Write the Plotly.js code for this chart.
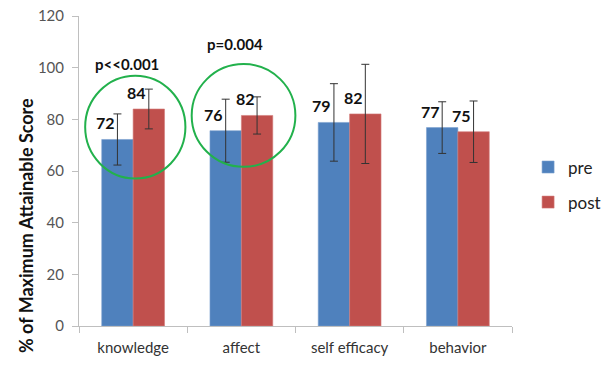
<!DOCTYPE html>
<html>
<head>
<meta charset="utf-8">
<script src="https://cdn.plot.ly/plotly-3.0.1.min.js"></script>
<style>html,body{margin:0;padding:0;background:#fff;}#chart{width:607px;height:367px;}</style>
</head>
<body>
<div id="chart"></div>
<script>
const categories = ["knowledge", "affect", "self efficacy", "behavior"];
const preValues = [72.2, 75.6, 78.8, 76.8];
const postValues = [84.0, 81.5, 82.1, 75.2];
const preErr = [9.9, 12.2, 15.0, 10.0];
const postErr = [7.7, 7.2, 19.2, 11.9];
const seriesNames = ["pre", "post"];
const pValueLabels = ["p<<0.001", "p=0.004"];
const pValueY = [101.4, 109.1];
const yTitle = "% of Maximum Attainable Score";

const FONT = "Lato, 'Open Sans', sans-serif";
const BARGAP = 0.42;
const off = (1 - BARGAP) / 4;

const traces = [
  {type: "bar", name: seriesNames[0], x: categories, y: preValues, legendgroup: "a",
   marker: {color: "#4F81BD", line: {color: "#7A9FCF", width: 0.6}},
   error_y: {type: "data", array: preErr, visible: true, color: "#333333", thickness: 1, width: 4}},
  {type: "bar", name: seriesNames[1], x: categories, y: postValues, legendgroup: "b",
   marker: {color: "#C0504D", line: {color: "#D47C7A", width: 0.6}},
   error_y: {type: "data", array: postErr, visible: true, color: "#333333", thickness: 1, width: 4}}
];

const annotations = [];
preValues.forEach((v, i) => annotations.push({x: i - off, y: v, xref: "x", yref: "y",
  text: String(Math.round(v)), showarrow: false, xanchor: "center", yanchor: "bottom",
  xshift: -12, yshift: 5, font: {family: FONT, size: 16, color: "#111", weight: "bold"}}));
postValues.forEach((v, i) => annotations.push({x: i + off, y: v, xref: "x", yref: "y",
  text: String(Math.round(v)), showarrow: false, xanchor: "center", yanchor: "bottom",
  xshift: -12, yshift: 5, font: {family: FONT, size: 16, color: "#111", weight: "bold"}}));
pValueLabels.forEach((t, i) => annotations.push({x: i, y: pValueY[i], xref: "x", yref: "y",
  text: t, showarrow: false, xanchor: "center", yanchor: "middle", xshift: -6,
  font: {family: FONT, size: 15, color: "#111", weight: "bold"}}));
annotations.push({xref: "paper", yref: "paper", x: -0.122, y: 0.323, text: yTitle, textangle: -90,
  showarrow: false, xanchor: "center", yanchor: "middle",
  font: {family: FONT, size: 18, color: "#111", weight: "bold"}});

const shapes = [
  {type: "circle", xref: "x", yref: "y", x0: 0.02 - 0.463, x1: 0.02 + 0.463, y0: 77.0 - 19.9, y1: 77.0 + 19.9,
   line: {color: "#22B14C", width: 2}},
  {type: "circle", xref: "x", yref: "y", x0: 1.02 - 0.479, x1: 1.02 + 0.479, y0: 81.5 - 19.9, y1: 81.5 + 19.9,
   line: {color: "#22B14C", width: 2}}
];

const layout = {
  width: 607, height: 367,
  margin: {l: 79, r: 95, t: 16, b: 41, pad: 0},
  paper_bgcolor: "#fff", plot_bgcolor: "#fff",
  font: {family: FONT, size: 14, color: "#404040"},
  barmode: "group", bargap: BARGAP, bargroupgap: 0,
  showlegend: true,
  legend: {xref: "container", yref: "container", x: 0.87, y: 0.496, xanchor: "left", yanchor: "middle",
           traceorder: "grouped", tracegroupgap: 10,
           font: {family: FONT, size: 17, color: "#222"}, bgcolor: "rgba(0,0,0,0)"},
  xaxis: {type: "category", showgrid: false, showline: true, linecolor: "#BFBFBF", linewidth: 1,
          ticks: "outside", tickson: "boundaries", ticklen: 6, tickcolor: "#BFBFBF", ticklabelstandoff: 8,
          tickfont: {family: FONT, size: 15, color: "#333"}, zeroline: false, fixedrange: true},
  yaxis: {range: [0, 120], dtick: 20, showgrid: false, showline: true, linecolor: "#BFBFBF", linewidth: 1,
          ticks: "outside", ticklen: 6, tickcolor: "#BFBFBF", zeroline: false, ticklabelstandoff: 5,
          tickfont: {family: FONT, size: 15, color: "#555"}},
  annotations: annotations,
  shapes: shapes
};

Plotly.newPlot("chart", traces, layout, {displayModeBar: false, staticPlot: true});
</script>
</body>
</html>
